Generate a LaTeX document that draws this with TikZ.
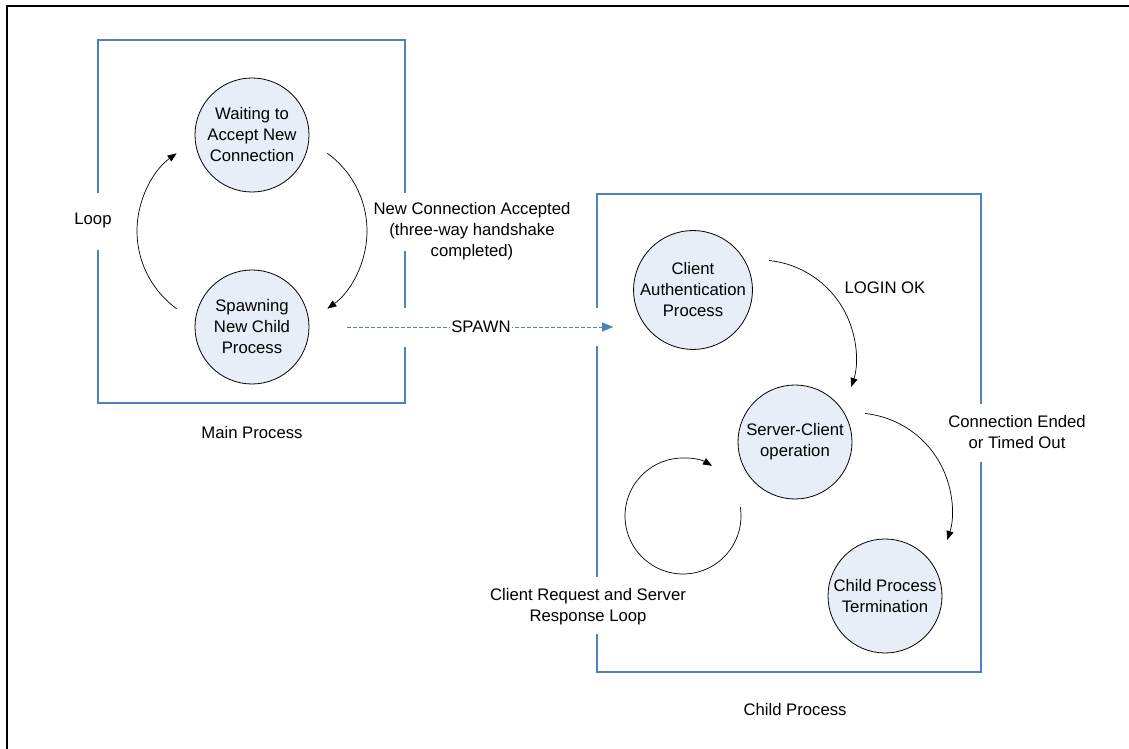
\documentclass[tikz,border=0pt]{standalone}
\usepackage{fontspec}
\setmainfont{Liberation Sans}
\usepackage{tikz}
\usetikzlibrary{arrows.meta,calc}
\usepackage{xcolor}
\definecolor{StateFill}{HTML}{E8EEF7}
\definecolor{FrameBlue}{HTML}{4F81BD}

\begin{document}
\begin{tikzpicture}[x=1pt,y=1pt,
    font=\fontsize{16.7}{21}\selectfont,
    state/.style={circle,draw,line width=0.8pt,fill=StateFill,minimum size=114pt,inner sep=0pt,align=center},
    procbox/.style={FrameBlue,line width=1.1pt},
    flow/.style={line width=0.7pt,-{Triangle[length=9pt,width=7pt]}},
    spawnline/.style={FrameBlue,line width=0.8pt,dash pattern=on 4pt off 2pt,-{Triangle[length=11pt,width=9pt]}},
    lbl/.style={align=center}]
    \useasboundingbox (0,0) rectangle (1129,749);
    \draw[line width=2pt] (6.5,0) -- (6.5,742.5) -- (1129,742.5);
    \foreach \name/\x/\y/\txt in {wait/252/614/{Waiting to\\Accept New\\Connection},
      spawn/252/422/{Spawning\\New Child\\Process},
      auth/693/459/{Client\\Authentication\\Process},
      serv/795/307/{Server-Client\\operation},
      term/885/153/{Child Process\\Termination}} {
     \node[state] (\name) at (\x,\y) {\txt};
    }
    % main process frame
    \draw[procbox] (98,556) -- (98,709) -- (405,709) -- (405,556);
    \draw[procbox] (405,498) -- (405,441);
    \draw[procbox] (405,402) -- (405,346) -- (98,346) -- (98,499);
    % child process frame
    \draw[procbox] (597,441) -- (597,555) -- (981,555) -- (981,345);
    \draw[procbox] (981,287) -- (981,77) -- (597,77) -- (597,115);
    \draw[procbox] (597,172) -- (597,403);
    \coordinate (mainloop) at ($(wait)!0.5!(spawn)$);
    \draw[flow] ($(mainloop)+(19,0)+(54:96)$) arc[start angle=54,end angle=-54,radius=96];
    \draw[flow] ($(mainloop)+(-19,0)+(234:96)$) arc[start angle=234,end angle=126,radius=96];
    \draw[flow] ($(auth)!0.5!(serv)+(15,9)+(84:97)$) arc[start angle=84,end angle=-18,radius=97];
    \draw[flow] ($(serv)!0.5!(term)+(15,9)+(84:97)$) arc[start angle=84,end angle=-18,radius=97];
    \coordinate (reqloop) at ($(serv)+(-112,-74)$);
    \draw[flow] ($(reqloop)+(9:58)$) arc[start angle=9,end angle=-300,radius=58];
    \draw[spawnline,shorten <=38pt,shorten >=20pt] (spawn.east) -- (spawn.east -| auth.west)
      node[pos=0.53,fill=white,inner sep=1pt,text=black] (spawnlbl) {SPAWN};
    \node[lbl] (looplbl) at (93,529) {Loop};
    \node[lbl] (acceptlbl) at (472,518) {New Connection Accepted\\(three-way handshake\\completed)};
    \node[lbl] (loginlbl) at (885,461) {LOGIN OK};
    \node[lbl] (endlbl) at (1017,317) {Connection Ended\\or Timed Out};
    \node[lbl] (reqlbl) at (588,142) {Client Request and Server\\Response Loop};
    \node (mainlbl) at (252,316) {Main Process};
    \node (childlbl) at (795,39) {Child Process};
\end{tikzpicture}
\end{document}
